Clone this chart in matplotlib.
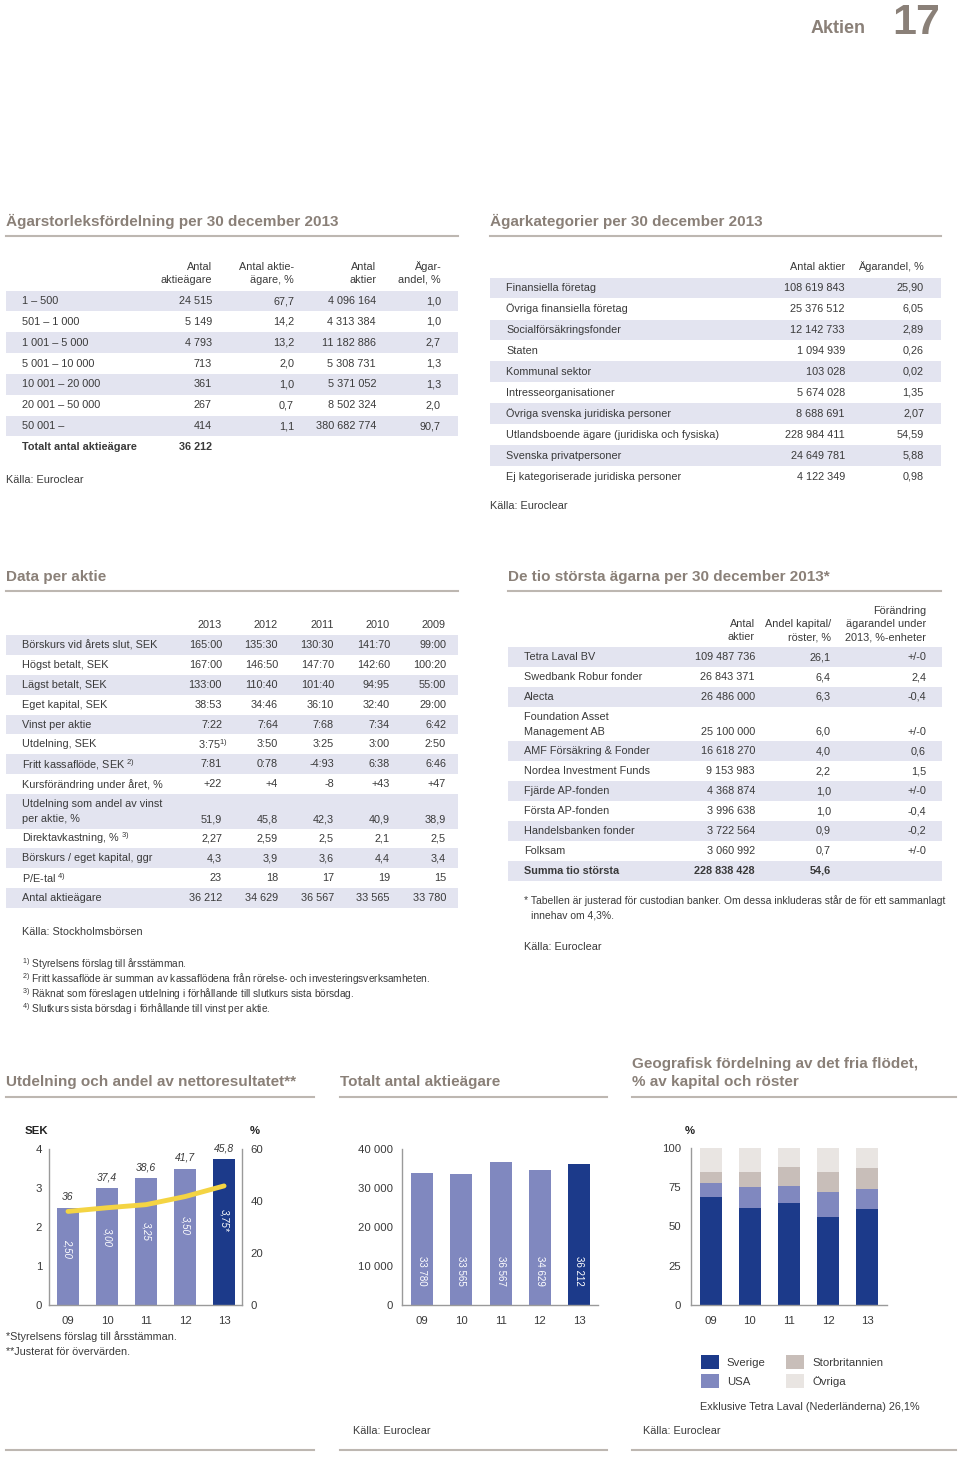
import matplotlib
matplotlib.use('Agg')
import matplotlib.pyplot as plt
from matplotlib.patches import Rectangle, Patch
from matplotlib.lines import Line2D
from matplotlib.ticker import FuncFormatter

plt.rcParams['font.family'] = ['Liberation Sans', 'DejaVu Sans']
plt.rcParams['mathtext.fontset'] = 'custom'
plt.rcParams['mathtext.rm'] = 'Liberation Sans'
plt.rcParams['mathtext.it'] = 'Liberation Sans:italic'
plt.rcParams['mathtext.bf'] = 'Liberation Sans:bold'

# --- Ägarstorleksfördelning ---
size_ranges = ["1 – 500", "501 – 1 000", "1 001 – 5 000", "5 001 – 10 000",
               "10 001 – 20 000", "20 001 – 50 000", "50 001 –"]
size_holders = ["24 515", "5 149", "4 793", "713", "361", "267", "414"]
size_holders_pct = ["67,7", "14,2", "13,2", "2,0", "1,0", "0,7", "1,1"]
size_shares = ["4 096 164", "4 313 384", "11 182 886", "5 308 731",
               "5 371 052", "8 502 324", "380 682 774"]
size_share_pct = ["1,0", "1,0", "2,7", "1,3", "1,3", "2,0", "90,7"]
size_total = "36 212"

# --- Ägarkategorier ---
owner_categories = ["Finansiella företag", "Övriga finansiella företag",
                    "Socialförsäkringsfonder", "Staten", "Kommunal sektor",
                    "Intresseorganisationer", "Övriga svenska juridiska personer",
                    "Utlandsboende ägare (juridiska och fysiska)",
                    "Svenska privatpersoner", "Ej kategoriserade juridiska personer"]
category_shares = ["108 619 843", "25 376 512", "12 142 733", "1 094 939", "103 028",
                   "5 674 028", "8 688 691", "228 984 411", "24 649 781", "4 122 349"]
category_pct = ["25,90", "6,05", "2,89", "0,26", "0,02", "1,35", "2,07",
                "54,59", "5,88", "0,98"]

# --- Data per aktie ---
table_years = ["2013", "2012", "2011", "2010", "2009"]
per_share_labels = [
    ["Börskurs vid årets slut, SEK"],
    ["Högst betalt, SEK"],
    ["Lägst betalt, SEK"],
    ["Eget kapital, SEK"],
    ["Vinst per aktie"],
    ["Utdelning, SEK"],
    [r"Fritt kassaflöde, SEK $^{\mathrm{2)}}$"],
    ["Kursförändring under året, %"],
    ["Utdelning som andel av vinst", "per aktie, %"],
    [r"Direktavkastning, % $^{\mathrm{3)}}$"],
    ["Börskurs / eget kapital, ggr"],
    [r"P/E-tal $^{\mathrm{4)}}$"],
    ["Antal aktieägare"],
]
per_share_values = [
    ["165:00", "135:30", "130:30", "141:70", "99:00"],
    ["167:00", "146:50", "147:70", "142:60", "100:20"],
    ["133:00", "110:40", "101:40", "94:95", "55:00"],
    ["38:53", "34:46", "36:10", "32:40", "29:00"],
    ["7:22", "7:64", "7:68", "7:34", "6:42"],
    [r"3:75$^{\mathrm{1)}}$", "3:50", "3:25", "3:00", "2:50"],
    ["7:81", "0:78", "-4:93", "6:38", "6:46"],
    ["+22", "+4", "-8", "+43", "+47"],
    ["51,9", "45,8", "42,3", "40,9", "38,9"],
    ["2,27", "2,59", "2,5", "2,1", "2,5"],
    ["4,3", "3,9", "3,6", "4,4", "3,4"],
    ["23", "18", "17", "19", "15"],
    ["36 212", "34 629", "36 567", "33 565", "33 780"],
]
per_share_notes = [
    "Styrelsens förslag till årsstämman.",
    "Fritt kassaflöde är summan av kassaflödena från rörelse- och investeringsverksamheten.",
    "Räknat som föreslagen utdelning i förhållande till slutkurs sista börsdag.",
    "Slutkurs sista börsdag i förhållande till vinst per aktie.",
]

# --- De tio största ägarna ---
top_owners = [["Tetra Laval BV"], ["Swedbank Robur fonder"], ["Alecta"],
              ["Foundation Asset", "Management AB"], ["AMF Försäkring & Fonder"],
              ["Nordea Investment Funds"], ["Fjärde AP-fonden"], ["Första AP-fonden"],
              ["Handelsbanken fonder"], ["Folksam"]]
top_shares = ["109 487 736", "26 843 371", "26 486 000", "25 100 000", "16 618 270",
              "9 153 983", "4 368 874", "3 996 638", "3 722 564", "3 060 992"]
top_pct = ["26,1", "6,4", "6,3", "6,0", "4,0", "2,2", "1,0", "1,0", "0,9", "0,7"]
top_change = ["+/-0", "2,4", "-0,4", "+/-0", "0,6", "1,5", "+/-0", "-0,4", "-0,2", "+/-0"]
top_sum = ["Summa tio största", "228 838 428", "54,6"]

# --- Diagram ---
chart_years = ["09", "10", "11", "12", "13"]
dividend = [2.50, 3.00, 3.25, 3.50, 3.75]
dividend_labels = ["2,50", "3,00", "3,25", "3,50", "3,75*"]
payout = [36, 37.4, 38.6, 41.7, 45.8]
payout_labels = ["36", "37,4", "38,6", "41,7", "45,8"]
shareholders = [33780, 33565, 36567, 34629, 36212]
shareholder_labels = ["33 780", "33 565", "36 567", "34 629", "36 212"]
geo_names = ["Sverige", "USA", "Storbritannien", "Övriga"]
geo_sverige = [69, 62, 65, 56, 61]
geo_usa = [9, 13, 11, 16, 13]
geo_uk = [7, 10, 12, 13, 13]
geo_other = [15, 15, 12, 15, 13]

W, H = 960, 1457
TITLE = '#8a8078'
TEXT = '#3a3a3a'
BAND = '#e3e4f0'
RULE = '#bdb7b1'
SPINE = '#9a9a9a'
LIGHT = '#8088bf'
DARK = '#1c3a8a'
YELLOW = '#f4d443'
GEO_COLORS = [DARK, LIGHT, '#c8beb9', '#e9e5e2']

fig = plt.figure(figsize=(9.6, 14.57), dpi=100)


def fx(x):
    return x / W


def fy(y):
    return 1 - y / H


def put(x, y, s, size=7.8, ha='left', color=TEXT, **kw):
    fig.text(fx(x), fy(y), s, fontsize=size, ha=ha, va='center', color=color, **kw)


def band(x0, x1, y0, y1):
    fig.add_artist(Rectangle((fx(x0), fy(y1)), (x1 - x0) / W, (y1 - y0) / H,
                             transform=fig.transFigure, facecolor=BAND,
                             edgecolor='none', zorder=0))


def rule(x0, x1, y, color=RULE, lw=1.5):
    fig.add_artist(Line2D([fx(x0), fx(x1)], [fy(y), fy(y)], color=color, lw=lw))


def title(x, y, s):
    put(x, y, s, size=11, color=TITLE, fontweight='bold')


# sidhuvud
fig.text(fx(866), fy(33), "Aktien", fontsize=13, fontweight='bold', color=TITLE,
         ha='right', va='baseline')
fig.text(fx(940), fy(34), "17", fontsize=31, fontweight='bold', color=TITLE,
         ha='right', va='baseline')

# tabell 1
title(6, 221, "Ägarstorleksfördelning per 30 december 2013")
rule(6, 458, 235.5)
col_x = [212, 294, 376, 441]
heads = [["Antal", "aktieägare"], ["Antal aktie-", "ägare, %"], ["Antal", "aktier"],
         ["Ägar-", "andel, %"]]
for cx, hd in zip(col_x, heads):
    put(cx, 267, hd[0], ha='right')
    put(cx, 280, hd[1], ha='right')
for i, lab in enumerate(size_ranges):
    y = 301 + i * 20.85
    if i % 2 == 0:
        band(6, 458, y - 10.3, y + 10.3)
    put(22, y, lab)
    for cx, val in zip(col_x, [size_holders[i], size_holders_pct[i], size_shares[i],
                               size_share_pct[i]]):
        put(cx, y, val, ha='right')
put(22, 447, "Totalt antal aktieägare", fontweight='bold')
put(212, 447, size_total, ha='right', fontweight='bold')
put(6, 480, "Källa: Euroclear")

# tabell 2
title(490, 221, "Ägarkategorier per 30 december 2013")
rule(490, 941, 235.5)
put(845, 267, "Antal aktier", ha='right')
put(924, 267, "Ägarandel, %", ha='right')
for i, lab in enumerate(owner_categories):
    y = 288 + i * 20.96
    if i % 2 == 0:
        band(490, 941, y - 10.4, y + 10.4)
    put(506, y, lab)
    put(845, y, category_shares[i], ha='right')
    put(924, y, category_pct[i], ha='right')
put(490, 506, "Källa: Euroclear")

# tabell 3
title(6, 577, "Data per aktie")
rule(6, 458, 591)
year_x = [222, 278, 334, 390, 446]
for cx, yr in zip(year_x, table_years):
    put(cx, 625, yr, ha='right')
top = 635.2
for i, (labs, vals) in enumerate(zip(per_share_labels, per_share_values)):
    h = 19.85 if len(labs) == 1 else 34.5
    if i % 2 == 0:
        band(6, 458, top, top + h)
    yv = top + h / 2 if len(labs) == 1 else top + h - 9.5
    if len(labs) == 1:
        put(22, yv, labs[0])
    else:
        put(22, yv - 15, labs[0])
        put(22, yv, labs[1])
    for j, (cx, v) in enumerate(zip(year_x, vals)):
        put(cx + (6 if '$' in v else 0), yv, v, ha='right')
    top += h
put(22, 932, "Källa: Stockholmsbörsen")
for k, note in enumerate(per_share_notes):
    put(22, 964 + k * 15, r"$^{\mathrm{%d)}}$ " % (k + 1) + note, size=7.3)

# tabell 4
title(508, 577, "De tio största ägarna per 30 december 2013*")
rule(508, 941, 591)
own_x = [755, 831, 926]
put(755, 624, "Antal", ha='right')
put(755, 637, "aktier", ha='right')
put(831, 624, "Andel kapital/", ha='right')
put(831, 637, "röster, %", ha='right')
put(926, 611, "Förändring", ha='right')
put(926, 624, "ägarandel under", ha='right')
put(926, 637, "2013, %-enheter", ha='right')
top = 647.2
for i, labs in enumerate(top_owners):
    h = 19.9 if len(labs) == 1 else 34.5
    if i % 2 == 0:
        band(508, 942, top, top + h)
    yv = top + h / 2 if len(labs) == 1 else top + h - 9.5
    if len(labs) == 1:
        put(524, yv, labs[0])
    else:
        put(524, yv - 15, labs[0])
        put(524, yv, labs[1])
    for cx, v in zip(own_x, [top_shares[i], top_pct[i], top_change[i]]):
        put(cx, yv, v, ha='right')
    top += h
band(508, 942, top, top + 19.9)
put(524, top + 10, top_sum[0], fontweight='bold')
put(755, top + 10, top_sum[1], ha='right', fontweight='bold')
put(831, top + 10, top_sum[2], ha='right', fontweight='bold')
put(524, 901, "* Tabellen är justerad för custodian banker. Om dessa inkluderas står de för ett sammanlagt", size=7.5)
put(531, 916, "innehav om 4,3%.", size=7.5)
put(524, 947, "Källa: Euroclear")

# rubriker för diagram
title(6, 1082, "Utdelning och andel av nettoresultatet**")
title(340, 1082, "Totalt antal aktieägare")
title(632, 1064, "Geografisk fördelning av det fria flödet,")
title(632, 1082, "% av kapital och röster")
for x0, x1 in [(6, 314), (340, 607), (632, 956)]:
    rule(x0, x1, 1097)
    rule(x0, x1, 1450)


def style_axes(ax, visible):
    for side, sp in ax.spines.items():
        sp.set_visible(side in visible)
        sp.set_color(SPINE)
        sp.set_linewidth(1.0)
    ax.tick_params(length=0, labelsize=8.2, colors=TEXT)
    ax.set_facecolor('none')


x = list(range(len(chart_years)))
bar_colors = [LIGHT] * 4 + [DARK]

# diagram 1: utdelning
ax1 = fig.add_axes([fx(49), fy(1305), (242 - 49) / W, (1305 - 1149) / H])
ax1.bar(x, dividend, width=0.56, color=bar_colors)
ax1.set_xlim(-0.487, 4.46)
ax1.set_ylim(0, 4)
ax1.set_yticks([0, 1, 2, 3, 4])
ax1.set_xticks(x)
ax1.set_xticklabels(chart_years)
style_axes(ax1, ['left', 'bottom'])
ax1.tick_params(axis='y', pad=5)
ax1.tick_params(axis='x', pad=8)
for i, (v, lab) in enumerate(zip(dividend, dividend_labels)):
    ax1.text(i, v * 0.58, lab, rotation=270, ha='center', va='center', color='white',
             fontsize=7, style='italic')
for i, (v, lab) in enumerate(zip(dividend, payout_labels)):
    ax1.annotate(lab, (i, v), xytext=(0, 4), textcoords='offset points', ha='center',
                 va='bottom', fontsize=7.5, style='italic', color=TEXT)
ax1b = ax1.twinx()
ax1b.plot(x, payout, color=YELLOW, lw=3.5, solid_capstyle='round')
ax1b.set_ylim(0, 60)
ax1b.set_yticks([0, 20, 40, 60])
style_axes(ax1b, ['right'])
ax1b.tick_params(axis='y', pad=6)
put(25, 1131, "SEK", size=8.2, fontweight='bold', color='#222222')
put(250, 1131, "%", size=8.2, fontweight='bold', color='#222222')
put(6, 1337, "*Styrelsens förslag till årsstämman.")
put(6, 1352, "**Justerat för övervärden.")

# diagram 2: aktieägare
ax2 = fig.add_axes([fx(402), fy(1305), (598 - 402) / W, (1305 - 1149) / H])
ax2.bar(x, shareholders, width=0.56, color=bar_colors)
ax2.set_xlim(-0.51, 4.48)
ax2.set_ylim(0, 40000)
ax2.set_yticks([0, 10000, 20000, 30000, 40000])
ax2.yaxis.set_major_formatter(FuncFormatter(lambda v, p: f"{int(v):,}".replace(',', ' ')))
ax2.set_xticks(x)
ax2.set_xticklabels(chart_years)
style_axes(ax2, ['left', 'bottom'])
ax2.tick_params(axis='y', pad=6.5)
ax2.tick_params(axis='x', pad=8)
for i, lab in enumerate(shareholder_labels):
    ax2.text(i, 8800, lab, rotation=270, ha='center', va='center', color='white',
             fontsize=7)
put(353, 1431, "Källa: Euroclear")

# diagram 3: geografisk fördelning
ax3 = fig.add_axes([fx(691), fy(1305), (887 - 691) / W, (1305 - 1148) / H])
bottom = [0] * len(x)
handles = []
for name, vals, col in zip(geo_names, [geo_sverige, geo_usa, geo_uk, geo_other], GEO_COLORS):
    ax3.bar(x, vals, width=0.56, bottom=bottom, color=col)
    bottom = [b + v for b, v in zip(bottom, vals)]
    handles.append(Patch(facecolor=col, edgecolor='none', label=name))
ax3.set_xlim(-0.51, 4.51)
ax3.set_ylim(0, 100)
ax3.set_yticks([0, 25, 50, 75, 100])
ax3.set_xticks(x)
ax3.set_xticklabels(chart_years)
style_axes(ax3, ['left', 'bottom'])
ax3.tick_params(axis='y', pad=7)
ax3.tick_params(axis='x', pad=8)
put(690, 1131, "%", size=8.2, fontweight='bold', color='#222222', ha='center')
fig.legend(handles=handles, loc='upper left', bbox_to_anchor=(fx(696), fy(1350)),
           ncol=2, frameon=False, fontsize=8.2, handlelength=1.6, handleheight=1.6,
           handletextpad=0.7, columnspacing=1.8, labelspacing=0.4, borderaxespad=0,
           labelcolor=TEXT)
put(700, 1407, "Exklusive Tetra Laval (Nederländerna) 26,1%")
put(643, 1431, "Källa: Euroclear")

fig.savefig('out.png', dpi=100)
